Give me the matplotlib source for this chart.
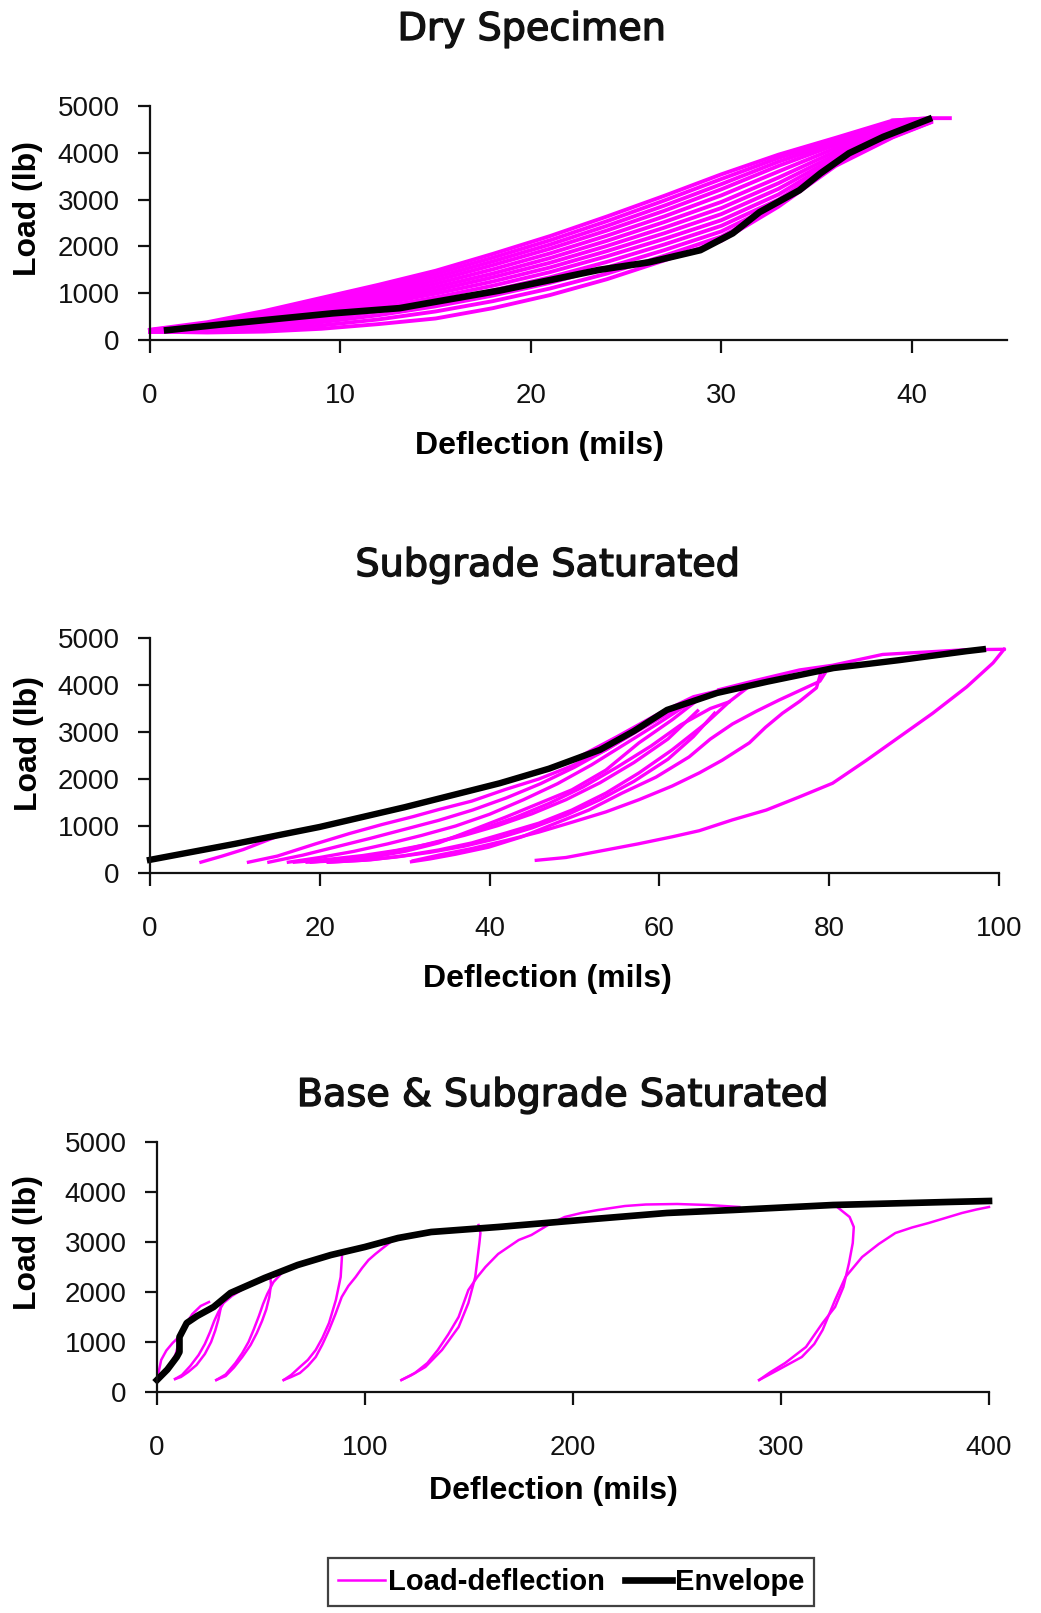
import matplotlib
matplotlib.use("Agg")
import matplotlib.pyplot as plt
import matplotlib.patheffects as pe
from matplotlib.lines import Line2D

# ---------------- Dry specimen: load-deflection cycles ----------------
dry_x = [0, 3, 6, 9, 12, 15, 18, 21, 24, 27, 30, 33, 36, 39, 41]
dry_cycles = [
    [220, 380, 620, 900, 1180, 1480, 1840, 2220, 2640, 3080, 3540, 3960, 4320, 4690, 4740],
    [210, 350, 580, 850, 1120, 1410, 1760, 2130, 2540, 2980, 3440, 3890, 4270, 4660, 4730],
    [210, 330, 540, 800, 1060, 1340, 1680, 2040, 2440, 2870, 3330, 3810, 4220, 4620, 4720],
    [200, 310, 500, 750, 1000, 1270, 1600, 1950, 2340, 2760, 3220, 3720, 4170, 4580, 4720],
    [200, 290, 460, 700, 940, 1200, 1510, 1850, 2230, 2640, 3090, 3600, 4100, 4540, 4710],
    [190, 270, 420, 650, 880, 1130, 1420, 1750, 2120, 2520, 2950, 3470, 4030, 4500, 4700],
    [190, 250, 390, 600, 820, 1060, 1340, 1650, 2010, 2400, 2820, 3350, 3960, 4460, 4700],
    [190, 230, 360, 550, 760, 990, 1250, 1550, 1900, 2280, 2690, 3230, 3900, 4430, 4690],
    [180, 220, 330, 500, 690, 910, 1160, 1450, 1790, 2160, 2560, 3110, 3850, 4400, 4680],
    [180, 200, 290, 440, 610, 820, 1060, 1340, 1670, 2040, 2440, 3000, 3810, 4380, 4670],
    [180, 190, 250, 380, 530, 720, 950, 1220, 1550, 1920, 2320, 2920, 3770, 4360, 4660],
    [180, 170, 210, 310, 440, 610, 830, 1100, 1420, 1800, 2210, 2870, 3740, 4340, 4655],
    [180, 160, 180, 240, 340, 460, 680, 960, 1300, 1700, 2120, 2850, 3720, 4330, 4650],
]
dry_tip_x = [39, 41, 42]
dry_tip_y = [4690, 4740, 4740]
dry_env_x = [0.9, 4.4, 9.6, 13.1, 14.9, 18.4, 23.6, 26.2, 28.9, 30.6, 32.0, 34.1, 35.2, 36.7, 38.5, 40.9]
dry_env_y = [210, 360, 570, 680, 810, 1060, 1500, 1660, 1920, 2280, 2730, 3200, 3560, 3990, 4340, 4720]

# ---------------- Subgrade saturated ----------------
sub_cycles_x = [
    [6.0, 8.5, 11, 13, 15, 18, 22],
    [11.6, 15, 19.5, 23.5, 27.3, 31, 34, 37.9, 41.9, 45.8, 49.7, 53.7, 57.6, 61.5, 65],
    [65, 61.5, 57.6, 53.7, 49.7, 45.8, 41.9, 37.9, 34, 30, 26, 22, 18.5],
    [70.5, 68.2, 65.5, 61.5, 57.6, 53.7, 49.7, 45.8, 41.9, 37.9, 34, 30, 26, 21],
    [79.5, 78.9, 76.5, 74.1, 71.4, 68.6, 66, 63.5, 59.6, 55.6, 51.7, 47.8, 43.8, 39.9, 36, 33, 30.8],
    [79, 78.5, 76.5, 74.5, 72.5, 70.6, 67.4, 64.7, 61.5, 57.6, 53.7, 49.7, 45.8, 41.9, 37.9, 34, 31],
    [45.5, 49, 53.7, 57.5, 61.5, 64.7, 68.6, 72.6, 76.5, 80.4, 84.4, 88.3, 92.2, 96.2, 99.3, 100.6],
    [100.6, 96, 92.2, 86.3, 80.4, 76.5, 71.4, 67],
    [16.3, 20, 24, 28, 32, 36, 40, 44, 48, 52, 56, 60, 63, 65],
    [19, 23, 27, 31, 35, 39, 43, 47, 51, 55, 59, 62.5, 66, 68.2],
    [14, 18, 22, 26, 30, 34, 38, 42, 46, 50, 54, 58, 62, 65],
    [50, 55, 60, 64, 67],
    [17, 21, 25, 29, 33, 37, 41, 45, 49, 53, 57, 61, 64.5],
    [21, 25, 29, 33, 37, 41, 45, 49, 53, 57, 61, 64, 66.5],
]
sub_cycles_y = [
    [230, 360, 500, 640, 780, 900, 1060],
    [230, 360, 620, 840, 1030, 1200, 1350, 1530, 1780, 2000, 2280, 2620, 3050, 3450, 3750],
    [3750, 3260, 2770, 2190, 1770, 1480, 1190, 910, 640, 460, 330, 260, 230],
    [3960, 3640, 3190, 2620, 2130, 1700, 1340, 1060, 850, 640, 490, 370, 280, 230],
    [4250, 4080, 3880, 3680, 3440, 3170, 2850, 2470, 2040, 1700, 1340, 1060, 770, 550, 400, 300, 240],
    [4250, 3940, 3650, 3400, 3100, 2770, 2400, 2130, 1850, 1560, 1300, 1080, 870, 690, 520, 380, 260],
    [270, 330, 490, 620, 770, 900, 1130, 1340, 1620, 1910, 2400, 2900, 3400, 3960, 4470, 4760],
    [4760, 4750, 4710, 4650, 4420, 4320, 4100, 3900],
    [230, 330, 460, 620, 800, 1000, 1250, 1560, 1900, 2300, 2750, 3200, 3550, 3750],
    [230, 300, 400, 540, 720, 930, 1180, 1480, 1830, 2250, 2700, 3150, 3500, 3640],
    [230, 380, 560, 740, 930, 1120, 1340, 1600, 1900, 2250, 2650, 3080, 3500, 3750],
    [2420, 2900, 3400, 3750, 3880],
    [230, 290, 370, 480, 620, 800, 1010, 1260, 1560, 1920, 2350, 2850, 3450],
    [230, 270, 340, 440, 570, 740, 960, 1230, 1560, 1950, 2420, 2900, 3400],
]
sub_env_x = [0, 10, 20, 30, 41.2, 47, 53, 57, 60.9, 66.8, 72.7, 80.5, 88.3, 96.2, 98.1]
sub_env_y = [280, 620, 980, 1400, 1910, 2220, 2620, 3020, 3470, 3830, 4070, 4360, 4530, 4720, 4760]

# ---------------- Base & subgrade saturated ----------------
base_cycles_x = [
    [10.8, 9, 6, 3, 1, 0.3],
    [0.3, 2, 4.5, 7.5, 10, 13, 17, 21, 25],
    [31, 30.5, 29.5, 28, 26, 23, 19, 15, 11.5, 8.7],
    [8.7, 12, 16, 20, 23, 25.5, 27.5, 29.5, 32, 36, 41, 46],
    [54.5, 54.8, 54, 52.5, 50.5, 48, 45, 41, 37, 33, 28.5],
    [28.5, 33, 37.7, 41, 44, 46.5, 49, 51, 53, 56, 60, 64, 68],
    [89, 88.3, 86, 82.7, 79.5, 76.3, 72.5, 68.7, 64.5, 60.9],
    [60.9, 64.5, 68.7, 72.5, 76.3, 79.5, 82.7, 85.8, 88.8, 92, 95.5, 98.6, 101.7, 105, 108, 112],
    [154.6, 155.5, 155, 153, 149.7, 145, 137, 129, 122, 117.5],
    [117.5, 124, 130, 135, 140, 145, 149.7, 154, 157.9, 164, 173.9, 180, 188, 196, 204, 212,
     225, 235, 250, 265, 280],
    [327, 333, 335, 334.5, 332.7, 330, 326, 320, 312, 302, 295, 289.5],
    [289.5, 298.5, 310, 316, 320, 323, 326, 331, 339, 347, 355, 363, 371, 379, 387, 394, 400],
]
base_cycles_y = [
    [1050, 760, 520, 380, 290, 250],
    [300, 640, 830, 980, 1080, 1300, 1560, 1720, 1800],
    [1820, 1650, 1450, 1230, 1000, 760, 540, 400, 300, 260],
    [260, 340, 520, 740, 960, 1200, 1420, 1600, 1780, 1920, 2050, 2170],
    [2300, 2150, 1900, 1650, 1420, 1180, 940, 700, 490, 320, 240],
    [240, 350, 580, 780, 1000, 1250, 1520, 1760, 1960, 2200, 2380, 2480, 2560],
    [2760, 2300, 1840, 1380, 1080, 840, 640, 500, 340, 240],
    [240, 300, 380, 520, 700, 950, 1240, 1560, 1900, 2120, 2300, 2480, 2640, 2760, 2860, 2990],
    [3340, 3180, 2980, 2300, 1780, 1300, 840, 500, 330, 240],
    [240, 380, 580, 840, 1150, 1500, 2040, 2300, 2500, 2760, 3040, 3140, 3340, 3500, 3580, 3640,
     3720, 3750, 3760, 3740, 3700],
    [3700, 3500, 3300, 2980, 2580, 2100, 1700, 1380, 900, 580, 400, 240],
    [240, 440, 700, 960, 1240, 1540, 1840, 2300, 2700, 2960, 3180, 3290, 3380, 3480, 3580, 3650, 3700],
]
base_env_x = [0, 5, 9.5, 10.8, 10.8, 14.3, 19.3, 27.2, 35.3, 51.7, 67.6, 83.6, 99.9, 115.9,
              131.8, 164, 204, 245, 277, 325, 380, 400]
base_env_y = [240, 450, 700, 800, 1100, 1380, 1520, 1700, 1980, 2280, 2540, 2740, 2900, 3080,
              3200, 3300, 3440, 3580, 3640, 3740, 3800, 3820]

titles = ["Dry Specimen", "Subgrade Saturated", "Base & Subgrade Saturated"]
load_ticks = [0, 1000, 2000, 3000, 4000, 5000]
dry_ticks = [0, 10, 20, 30, 40]
sub_ticks = [0, 20, 40, 60, 80, 100]
base_ticks = [0, 100, 200, 300, 400]

PINK = "#FF00FF"
INK = "#111111"
W, H = 1041, 1613
fig = plt.figure(figsize=(W / 100, H / 100), dpi=100)
fig.patch.set_facecolor("white")

TICK_FONT = "Liberation Sans"
LABEL_FONT = "Liberation Sans"


def style_axes(ax, xmax, xticks, xlab_pos, ylab_pos):
    ax.set_xlim(0, xmax)
    ax.set_ylim(0, 5000)
    ax.set_xticks(xticks)
    ax.set_yticks(load_ticks)
    for s in ("top", "right"):
        ax.spines[s].set_visible(False)
    for s in ("left", "bottom"):
        ax.spines[s].set_linewidth(1.6)
        ax.spines[s].set_color(INK)
    ax.tick_params(axis="both", direction="out", length=9, width=1.6, color=INK,
                   labelsize=20, labelcolor=INK)
    ax.tick_params(axis="x", pad=22)
    ax.tick_params(axis="y", pad=13)
    for lab in ax.get_xticklabels() + ax.get_yticklabels():
        lab.set_fontfamily(TICK_FONT)
    ax.set_xlabel("Deflection (mils)", fontsize=23, fontweight="bold", family=LABEL_FONT)
    ax.set_ylabel("Load (lb)", fontsize=23, fontweight="bold", family=LABEL_FONT)
    ax.xaxis.set_label_coords(*xlab_pos)
    ax.yaxis.set_label_coords(*ylab_pos)


ax1 = fig.add_axes([150 / W, 1 - 340 / H, 857 / W, 234 / H])
ax2 = fig.add_axes([150 / W, 1 - 873 / H, 849 / W, 235 / H])
ax3 = fig.add_axes([157 / W, 1 - 1392 / H, 832 / W, 250 / H])

# Dry specimen
for ys in dry_cycles:
    ax1.plot(dry_x, ys, color=PINK, lw=2.8, clip_on=False)
ax1.plot(dry_tip_x, dry_tip_y, color=PINK, lw=2.8, clip_on=False)
ax1.plot(dry_env_x, dry_env_y, color="black", lw=4.8, clip_on=False)
style_axes(ax1, 45, dry_ticks, (0.454, -0.39), (-0.125, 0.56))

# Subgrade saturated
for xs, ys in zip(sub_cycles_x, sub_cycles_y):
    ax2.plot(xs, ys, color=PINK, lw=2.4, clip_on=False)
ax2.plot(sub_env_x, sub_env_y, color="black", lw=4.6, clip_on=False)
style_axes(ax2, 100, sub_ticks, (0.468, -0.388), (-0.125, 0.553))

# Base & subgrade saturated
for xs, ys in zip(base_cycles_x, base_cycles_y):
    ax3.plot(xs, ys, color=PINK, lw=1.8, clip_on=False)
ax3.plot(base_env_x, base_env_y, color="black", lw=4.8, clip_on=False)
style_axes(ax3, 400, base_ticks, (0.477, -0.336), (-0.137, 0.60))

# Panel titles
for txt, (cx, cy) in zip(titles, [(532, 30), (548, 566), (563, 1096)]):
    fig.text(cx / W, 1 - cy / H, txt, ha="center", va="center", fontsize=27.5,
             family="DejaVu Sans", color=INK,
             path_effects=[pe.withStroke(linewidth=1.0, foreground=INK)])

# Legend
handles = [Line2D([], [], color=PINK, lw=1.8), Line2D([], [], color="black", lw=4.8)]
leg = fig.legend(handles, ["Load-deflection", "Envelope"], loc="upper left",
                 bbox_to_anchor=(328 / W, 1 - 1558 / H), ncol=2, frameon=True,
                 fancybox=False, borderpad=0.35, handlelength=1.6, handletextpad=0.1,
                 columnspacing=0.7, borderaxespad=0,
                 prop={"family": LABEL_FONT, "weight": "bold", "size": 21})
leg.get_frame().set_edgecolor(INK)
leg.get_frame().set_linewidth(1.6)

fig.savefig("out.png", dpi=100, facecolor="white")
